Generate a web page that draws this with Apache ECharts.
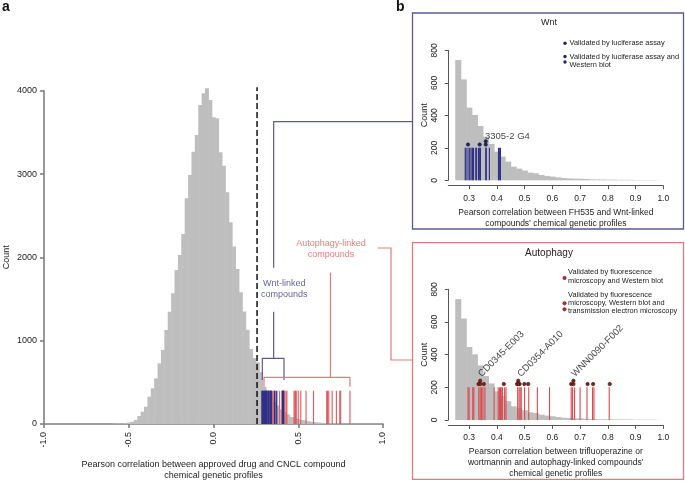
<!DOCTYPE html>
<html><head><meta charset="utf-8">
<script src="https://cdn.jsdelivr.net/npm/echarts@6/dist/echarts.min.js"></script>
<style>html,body{margin:0;padding:0;background:#fff}#c{width:685px;height:490px}</style>
</head><body><div id="c"></div>
<script>
// ---------------- data ----------------
const binCenters = [-0.60,-0.58,-0.56,-0.54,-0.52,-0.50,-0.48,-0.46,-0.44,-0.42,-0.40,-0.38,-0.36,-0.34,-0.32,-0.30,-0.28,-0.26,-0.24,-0.22,-0.20,-0.18,-0.16,-0.14,-0.12,-0.10,-0.08,-0.06,-0.04,-0.02,0.00,0.02,0.04,0.06,0.08,0.10,0.12,0.14,0.16,0.18,0.20,0.22,0.24,0.26,0.28,0.30,0.32,0.34,0.36,0.38,0.40,0.42,0.44,0.46,0.48,0.50,0.52,0.54,0.56,0.58,0.60,0.62,0.64,0.66,0.68,0.70,0.72,0.74,0.76,0.78,0.80,0.82,0.84,0.86,0.88,0.90,0.92,0.94,0.96,0.98];
const binCounts = [2,5,6,8,10,18,28,48,96,148,208,328,428,548,728,888,1128,1348,1568,1848,2028,2280,2708,2988,3268,3468,3828,3968,4028,3888,3680,3668,3260,3100,2780,2420,2130,1860,1580,1350,1130,900,790,740,621,447,402,334,269,224,176,146,115,84,72,60,47,43,33,27,23,18,14,12,10,10,8,6,5,5,4,4,3,3,3,2,2,2,2,1];
const wntCompounds = [0.286,0.289,0.296,0.302,0.307,0.312,0.316,0.324,0.327,0.334,0.338,0.341,0.360,0.362,0.373,0.406,0.409,0.413];
const autophagyCompounds = [0.296,0.300,0.313,0.317,0.335,0.340,0.345,0.350,0.357,0.390,0.405,0.410,0.413,0.416,0.420,0.428,0.433,0.475,0.480,0.484,0.488,0.500,0.515,0.546,0.590,0.668,0.673,0.680,0.700,0.725,0.745,0.750,0.805];
const wntValidatedOne = [0.296,0.338];
const wntValidatedTwo = [0.360];
const autoValidatedOne = [0.334,0.353,0.425,0.473,0.482,0.499,0.513,0.668,0.727,0.747,0.807];
const autoValidatedTwo = [0.340,0.477,0.676];
const wntLabelNames = ['3305-2 G4'];
const wntLabelX = [0.357];
const autoLabelNames = ['CD0345-E003','CD0354-A010','WNN0090-F002'];
const autoLabelX = [0.352,0.493,0.688];
const mainXTicks = [-1.0,-0.5,0.0,0.5,1.0];
const mainYTicks = [0,1000,2000,3000,4000];
const subXTicks = [0.3,0.4,0.5,0.6,0.7,0.8,0.9,1.0];
const subYTicks = [0,200,400,600,800];
const thresholdX = 0.257;

// ---------------- styles ----------------
const FONT = '"Liberation Sans", Arial, Helvetica, sans-serif';
const GRAY = '#bebebe', NAVY = '#2f2f88', RED = '#da4a4e', RED_MAIN = '#e0585c';
const WNT_BOX = '#5a5a94', AUTO_BOX = '#e27c7c';
const BIN_HALF = 0.01;
const RUG_MAIN = 400, RUG_SUB = 200, DOT1 = 220, DOT2 = 240;

const histBins = binCenters.map((c,i)=>[c, binCounts[i]]);
const tailBins = histBins.filter(d => d[0] > 0.25);

function histRender(params, api){
  const c = api.value(0), n = api.value(1);
  const p0 = api.coord([c - BIN_HALF, n]);
  const p1 = api.coord([c + BIN_HALF, 0]);
  return {type:'rect', shape:{x:p0[0], y:p0[1], width:p1[0]-p0[0]+0.5, height:p1[1]-p0[1]}, style:{fill:GRAY}};
}
function rugRender(color, w){
  return function(params, api){
    const x = api.value(0), h = api.value(1);
    const a = api.coord([x,0]), b = api.coord([x,h]);
    return {type:'line', shape:{x1:a[0], y1:a[1], x2:b[0], y2:b[1]}, style:{stroke:color, lineWidth:w}};
  };
}
function histSeries(xi, data){
  return {type:'custom', xAxisIndex:xi, yAxisIndex:xi, data:data, renderItem:histRender, silent:true, clip:false, encode:{x:0,y:1}};
}
function rugSeries(xi, vals, h, color, w){
  return {type:'custom', xAxisIndex:xi, yAxisIndex:xi, data:vals.map(v=>[v,h]), renderItem:rugRender(color, w), silent:true, encode:{x:0,y:1}};
}
function dotSeries(xi, one, two, color, border){
  const d = one.map(v=>[v,DOT1]).concat(two.map(v=>[v,DOT1])).concat(two.map(v=>[v,DOT2]));
  return {type:'scatter', xAxisIndex:xi, yAxisIndex:xi, data:d, symbolSize:3.4, silent:true,
    itemStyle:{color:color, borderColor:border, borderWidth:0.6, opacity:1}};
}
function lineSeries(pts, color, extra){
  return Object.assign({type:'line', xAxisIndex:0, yAxisIndex:0, data:pts, symbol:'none', silent:true, clip:false,
    lineStyle:{color:color, width:1.2}}, extra||{});
}

const mainAxisLine = {lineStyle:{color:'#7f7f7f', width:1.6}};
const subAxisLine = {lineStyle:{color:'#555', width:1}};
function subX(gi, offset, name, gap){
  return {gridIndex:gi, type:'value', min:0.225, max:1.0, offset:offset, splitLine:{show:false},
    axisLine:Object.assign({onZero:false}, subAxisLine),
    axisTick:{customValues:subXTicks, length:3.5, lineStyle:{color:'#555', width:1}},
    axisLabel:{customValues:subXTicks, margin:8, fontSize:8.5, color:'#222', formatter:v=>v.toFixed(1)},
    name:name, nameLocation:'middle', nameGap:gap, nameTextStyle:{fontSize:8.5, lineHeight:10.8, color:'#222'}};
}
function subY(gi){
  return {gridIndex:gi, type:'value', min:0, max:800, interval:200, splitLine:{show:false},
    axisLine:Object.assign({onZero:false}, subAxisLine),
    axisTick:{length:3.5, lineStyle:{color:'#555', width:1}},
    axisLabel:{rotate:90, margin:9.5, fontSize:8.5, color:'#222', customValues:subYTicks, formatter:v=>String(v)},
    name:'Count', nameLocation:'middle', nameGap:18, nameTextStyle:{fontSize:9, color:'#222'}};
}

const LEG = '7.4px ' + FONT;
const baseGraphic = [
  {type:'text', left:2, top:0, style:{text:'a', font:'bold 14px '+FONT, fill:'#111'}},
  {type:'text', left:396, top:0, style:{text:'b', font:'bold 14px '+FONT, fill:'#111'}},
  {type:'rect', shape:{x:412.5, y:13, width:271, height:216}, style:{fill:'none', stroke:WNT_BOX, lineWidth:1.3}},
  {type:'rect', shape:{x:412.5, y:242.7, width:271, height:236.6}, style:{fill:'none', stroke:AUTO_BOX, lineWidth:1.3}},
  {type:'text', x:549, y:23, style:{text:'Wnt', font:'9px '+FONT, fill:'#222', align:'center', verticalAlign:'middle'}},
  {type:'text', x:549, y:253.3, style:{text:'Autophagy', font:'10px '+FONT, fill:'#222', align:'center', verticalAlign:'middle'}},
  {type:'circle', shape:{cx:565, cy:43.3, r:1.7}, style:{fill:'#262660'}},
  {type:'text', x:569.5, y:43.3, style:{text:'Validated by luciferase assay', font:LEG, fill:'#222', verticalAlign:'middle'}},
  {type:'circle', shape:{cx:565, cy:56.5, r:1.7}, style:{fill:'#262660'}},
  {type:'circle', shape:{cx:565, cy:62, r:1.7}, style:{fill:'#262660'}},
  {type:'text', x:569.5, y:61, style:{text:'Validated by luciferase assay and\nWestern blot', font:LEG, lineHeight:8.8, fill:'#222', verticalAlign:'middle'}},
  {type:'circle', shape:{cx:564.5, cy:278, r:1.7}, style:{fill:'#c0341f', stroke:'#3a0c08', lineWidth:0.5}},
  {type:'text', x:568, y:276.5, style:{text:'Validated by fluorescence\nmicroscopy and Western blot', font:LEG, lineHeight:8.6, fill:'#222', verticalAlign:'middle'}},
  {type:'circle', shape:{cx:564.5, cy:303.3, r:1.7}, style:{fill:'#c0341f', stroke:'#3a0c08', lineWidth:0.5}},
  {type:'circle', shape:{cx:564.5, cy:309.3, r:1.7}, style:{fill:'#c0341f', stroke:'#3a0c08', lineWidth:0.5}},
  {type:'text', x:568, y:303, style:{text:'Validated by fluorescence\nmicroscopy, Western blot and\ntransmission electron microscopy', font:LEG, lineHeight:8.4, fill:'#222', verticalAlign:'middle'}}
];

const option = {
  animation:false,
  textStyle:{fontFamily:FONT},
  grid:[
    {left:44, top:90.7, width:339, height:333.3},
    {left:448.3, top:50.3, width:215, height:130},
    {left:448.3, top:289.3, width:215, height:130.7}
  ],
  xAxis:[
    {gridIndex:0, type:'value', min:-1, max:1, interval:0.5, splitLine:{show:false},
     axisLine:Object.assign({onZero:false}, mainAxisLine),
     axisTick:{length:4, lineStyle:{color:'#7f7f7f', width:1.6}},
     axisLabel:{rotate:90, margin:8, fontSize:9, color:'#222', customValues:mainXTicks, formatter:v=>v.toFixed(1)},
     name:'Pearson correlation between approved drug and CNCL compound\nchemical genetic profiles',
     nameLocation:'middle', nameGap:35, nameTextStyle:{fontSize:9, lineHeight:11, color:'#222'}},
    subX(1, 5.4, 'Pearson correlation between FH535 and Wnt-linked\ncompounds\u2019 chemical genetic profiles', 22),
    subX(2, 5.3, 'Pearson correlation between trifluoperazine or\nwortmannin and autophagy-linked compounds\u2019\nchemical genetic profiles', 21)
  ],
  yAxis:[
    {gridIndex:0, type:'value', min:0, max:4000, interval:1000, splitLine:{show:false},
     axisLine:Object.assign({onZero:false}, mainAxisLine),
     axisTick:{length:4, lineStyle:{color:'#7f7f7f', width:1.6}},
     axisLabel:{margin:7, fontSize:9, color:'#222', customValues:mainYTicks, formatter:v=>String(v)},
     name:'Count', nameLocation:'middle', nameGap:33, nameTextStyle:{fontSize:9, color:'#222'}},
    subY(1), subY(2)
  ],
  series:[
    histSeries(0, histBins),
    histSeries(1, tailBins),
    histSeries(2, tailBins),
    lineSeries([[thresholdX,0],[thresholdX,4040]], '#111', {lineStyle:{color:'#111', width:1.5, type:[6,3]}}),
    rugSeries(0, autophagyCompounds, RUG_MAIN, RED_MAIN, 1.1),
    rugSeries(0, wntCompounds, RUG_MAIN, NAVY, 1.3),
    rugSeries(1, wntCompounds, RUG_SUB, NAVY, 1.1),
    rugSeries(2, autophagyCompounds, RUG_SUB, RED, 1.1),
    dotSeries(1, wntValidatedOne, wntValidatedTwo, '#262660', '#1a1a40'),
    dotSeries(2, autoValidatedOne, autoValidatedTwo, '#8a2418', '#3a0c08'),
    // brackets (panel a)
    lineSeries([[0.288,528],[0.288,788],[0.416,788],[0.416,528]], WNT_BOX),
    lineSeries([[0.355,788],[0.355,1348]], WNT_BOX),
    lineSeries([[0.298,448],[0.298,560],[0.805,560],[0.805,448]], AUTO_BOX),
    lineSeries([[0.690,560],[0.690,1816]], AUTO_BOX),
    // annotation texts
    {type:'scatter', xAxisIndex:0, yAxisIndex:0, symbolSize:0, silent:true,
     data:[{value:[0.417,1614], name:'Wnt-linked\ncompounds'}],
     label:{show:true, position:'inside', formatter:'{b}', fontSize:9, lineHeight:11, color:'#3b3b7c', align:'center', verticalAlign:'middle'}},
    {type:'scatter', xAxisIndex:0, yAxisIndex:0, symbolSize:0, silent:true,
     data:[{value:[0.693,2104], name:'Autophagy-linked\ncompounds'}],
     label:{show:true, position:'inside', formatter:'{b}', fontSize:9, lineHeight:11, color:'#e05a5a', align:'center', verticalAlign:'middle'}},
    {type:'scatter', xAxisIndex:1, yAxisIndex:1, symbolSize:0, silent:true,
     data:wntLabelX.map((x,i)=>({value:[x,271], name:wntLabelNames[i]})),
     label:{show:true, position:[0,0], formatter:'{b}', fontSize:9.5, color:'#111', align:'left', verticalAlign:'middle'}},
    {type:'scatter', xAxisIndex:2, yAxisIndex:2, symbolSize:0, silent:true,
     data:autoLabelX.map((x,i)=>({value:[x,252], name:autoLabelNames[i]})),
     label:{show:true, position:[0,0], formatter:'{b}', fontSize:9.5, color:'#111', align:'left', verticalAlign:'bottom', rotate:45}}
  ],
  graphic: baseGraphic
};
const chart = echarts.init(document.getElementById('c'), null, {renderer:'canvas'});
chart.setOption(option);

// connectors from panel a brackets to the panel b boxes
const P = v => chart.convertToPixel({gridIndex:0}, v);
const wLow = P([0.355, 1876]), wHigh = P([0.355, 3628]);
const aStart = P([0.970, 2112]);
const aLowY = P([0, 768])[1];
const BOX_X = 412.5, ELBOW_X = 391;
const connectors = [
  {type:'polyline', shape:{points:[wLow, wHigh, [BOX_X, wHigh[1]]]}, style:{stroke:WNT_BOX, lineWidth:1.2, fill:'none'}},
  {type:'polyline', shape:{points:[aStart, [ELBOW_X, aStart[1]], [ELBOW_X, aLowY], [BOX_X, aLowY]]}, style:{stroke:AUTO_BOX, lineWidth:1.2, fill:'none'}}
];
chart.setOption({graphic: baseGraphic.concat(connectors)});
</script></body></html>
